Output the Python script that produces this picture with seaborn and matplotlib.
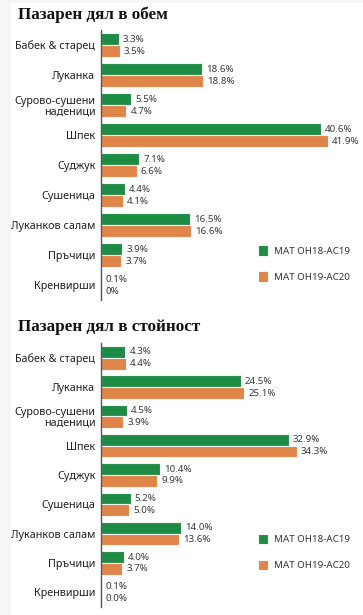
import pandas as pd
import numpy as np
import matplotlib
matplotlib.use("Agg")
import matplotlib.pyplot as plt
import seaborn as sns

categories = ["Бабек & старец", "Луканка", "Сурово-сушени\nнаденици", "Шпек",
              "Суджук", "Сушеница", "Луканков салам", "Пръчици", "Кренвирши"]
series = ["MAT OH18-AC19", "MAT OH19-AC20"]

vol_18 = [3.3, 18.6, 5.5, 40.6, 7.1, 4.4, 16.5, 3.9, 0.1]
vol_19 = [3.5, 18.8, 4.7, 41.9, 6.6, 4.1, 16.6, 3.7, 0.0]
vol_lbl_18 = ["3.3%", "18.6%", "5.5%", "40.6%", "7.1%", "4.4%", "16.5%", "3.9%", "0.1%"]
vol_lbl_19 = ["3.5%", "18.8%", "4.7%", "41.9%", "6.6%", "4.1%", "16.6%", "3.7%", "0%"]

val_18 = [4.3, 24.5, 4.5, 32.9, 10.4, 5.2, 14.0, 4.0, 0.1]
val_19 = [4.4, 25.1, 3.9, 34.3, 9.9, 5.0, 13.6, 3.7, 0.0]
val_lbl_18 = ["4.3%", "24.5%", "4.5%", "32.9%", "10.4%", "5.2%", "14.0%", "4.0%", "0.1%"]
val_lbl_19 = ["4.4%", "25.1%", "3.9%", "34.3%", "9.9%", "5.0%", "13.6%", "3.7%", "0.0%"]

titles = ["Пазарен дял в обем", "Пазарен дял в стойност"]

green = "#1e8c45"
orange = "#e0854a"

sns.set_style("white")
plt.rcParams['font.family'] = ['Noto Sans', 'DejaVu Sans']

fig = plt.figure(figsize=(3.63, 6.15), dpi=100, facecolor="#f6f6f6")
# white card with a faint grey margin at left and top
fig.patches.append(plt.Rectangle((11 / 363, 0), 1, 1 - 3 / 615, transform=fig.transFigure,
                                 facecolor="white", edgecolor="none", zorder=-1))


def panel(rect, a, b, la, lb, title, xmax, title_y, leg_y):
    ax = fig.add_axes(rect)
    ax.patch.set_alpha(0)
    df = pd.DataFrame({
        "cat": categories * 2,
        "share": a + b,
        "period": [series[0]] * len(a) + [series[1]] * len(b),
    })
    sns.barplot(data=df, y="cat", x="share", hue="period", orient="h",
                palette=[green, orange], saturation=1, width=0.8,
                edgecolor="#f4f4f4", linewidth=0.8, ax=ax)
    for cont, labs in zip(ax.containers, [la, lb]):
        ax.bar_label(cont, labels=labs, padding=3, fontsize=7, color="#3a3a3a")
    ax.set_xlim(0, xmax)
    ax.set_ylim(len(categories) - 0.5, -0.5)
    ax.set_xlabel("")
    ax.set_ylabel("")
    ax.set_xticks([])
    ax.tick_params(axis="y", which="major", length=0, labelsize=7.8, pad=4,
                   labelcolor="#222222")
    for t in ax.get_yticklabels():
        t.set_linespacing(0.95)
    ax.set_yticks(np.arange(-0.5, len(categories), 1), minor=True)
    ax.tick_params(axis="y", which="minor", direction="in", length=5,
                   width=1, color="#666666")
    for s in ["top", "right", "bottom"]:
        ax.spines[s].set_visible(False)
    ax.spines["left"].set_color("#555555")
    ax.spines["left"].set_linewidth(1)
    leg = ax.legend(loc="center left", bbox_to_anchor=(0.71, leg_y),
                    bbox_transform=fig.transFigure, borderaxespad=0, borderpad=0,
                    frameon=False, fontsize=7, handlelength=1.1, handleheight=1.3,
                    labelspacing=1.55, handletextpad=0.6)
    for t in leg.get_texts():
        t.set_color("#333333")
    fig.text(0.05, title_y, title, fontsize=12.3, fontweight="bold",
             family="Liberation Serif", color="#111111", va="center")
    return ax


panel([0.278, 0.512, 0.672, 0.439], vol_18, vol_19, vol_lbl_18, vol_lbl_19,
      titles[0], 45, 1 - 15 / 615, 1 - 263.5 / 615)
panel([0.278, 0.013, 0.672, 0.429], val_18, val_19, val_lbl_18, val_lbl_19,
      titles[1], 42.7, 1 - 327 / 615, 1 - 552 / 615)

fig.savefig("out.png", dpi=100, facecolor=fig.get_facecolor())
